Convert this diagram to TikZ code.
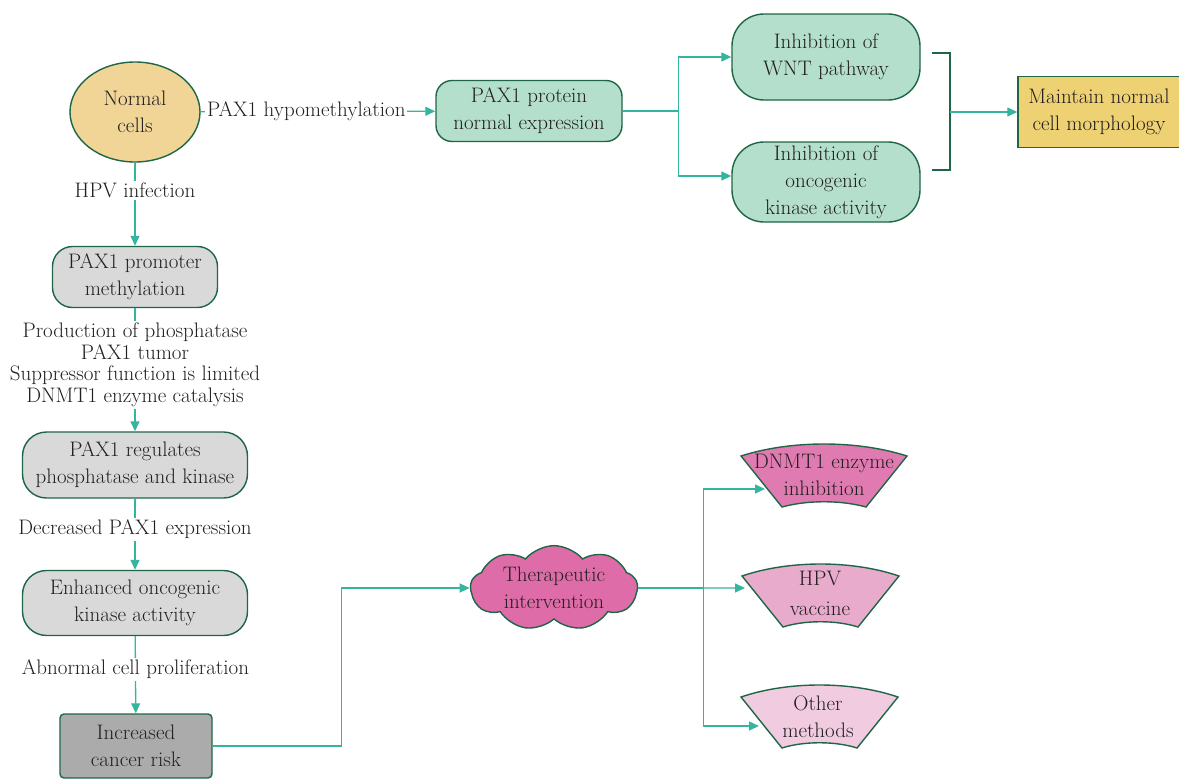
\documentclass[tikz,border=0pt]{standalone}
\usetikzlibrary{shapes.geometric,shapes.symbols,arrows.meta}
\definecolor{edge}{HTML}{1F6646}
\definecolor{link}{HTML}{35B49E}
\definecolor{txt}{HTML}{231F20}
\definecolor{tan}{HTML}{F0D597}
\definecolor{mint}{HTML}{B3DFCC}
\definecolor{lgray}{HTML}{D9D9D9}
\definecolor{dgray}{HTML}{ABABAB}
\definecolor{gold}{HTML}{EED173}
\definecolor{rose}{HTML}{DE6CA8}
\definecolor{roseA}{HTML}{E07BB1}
\definecolor{roseB}{HTML}{E8ABCC}
\definecolor{roseC}{HTML}{F1CBE0}
% curved fan shape: top-left corner, width, fill
\newcommand{\fanshape}[3]{%
  \draw[fan,fill=#3,shift={(#1)}] (0,0) .. controls ({0.3*#2},-16) and ({0.7*#2},-16) .. (#2,0)
    -- ({#2-41},51) .. controls ({0.6*#2},44) and ({0.4*#2},44) .. (41,51) -- cycle;}

\begin{document}
\begin{tikzpicture}[x=1pt,y=-1pt,font=\fontsize{21}{27}\selectfont,
    every node/.append style={text=txt,align=center},
    box/.style={draw=edge,line width=1.4pt,rounded corners=#1,inner sep=0pt},
    box/.default=20pt,
    fan/.style={draw=edge,line width=1.4pt},
    arr/.style={draw=link,line width=1.3pt,-{Triangle[length=10pt,width=9pt]}},
    wire/.style={draw=link,line width=1.3pt},
    lab/.style={fill=white,inner sep=2pt}]
  \useasboundingbox (0,0) rectangle (1179,779);

  % left column
  \node (nc) at (135,112) [ellipse,draw=edge,line width=1.4pt,fill=tan,minimum width=130pt,minimum height=100pt,inner sep=0pt] {Normal\\cells};
  \node (pm) at (135,277) [box,fill=lgray,minimum width=165pt,minimum height=61pt] {PAX1 promoter\\methylation};
  \node (pr) at (135,465) [box=24pt,fill=lgray,minimum width=225pt,minimum height=66pt] {PAX1 regulates\\phosphatase and kinase};
  \node (eo) at (135,603) [box=24pt,fill=lgray,minimum width=225pt,minimum height=65pt] {Enhanced oncogenic\\kinase activity};
  \node (ic) at (136,746) [box=4pt,fill=dgray,minimum width=152pt,minimum height=64pt] {Increased\\cancer risk};

  \draw[arr] (nc) -- node[lab,pos=0.33] {HPV infection} (pm);
  \draw[arr] (pm) -- node[lab,pos=0.46,font=\fontsize{21}{21.5}\selectfont] {Production of phosphatase\\PAX1 tumor\\Suppressor function is limited\\DNMT1 enzyme catalysis} (pr);
  \draw[arr] (pr) -- node[lab,pos=0.43] {Decreased PAX1 expression} (eo);
  \draw[arr] (eo) -- node[lab,pos=0.43] {Abnormal cell proliferation} (ic);

  % top branch
  \node (pp) at (529,111) [box=16pt,fill=mint,minimum width=186pt,minimum height=61pt] {PAX1 protein\\normal expression};
  \node (wnt) at (826,57) [box=32pt,fill=mint,minimum width=188pt,minimum height=86pt] {Inhibition of\\WNT pathway};
  \node (kin) at (826,182) [box=32pt,fill=mint,minimum width=188pt,minimum height=80pt] {Inhibition of\\oncogenic\\kinase activity};
  \node (mn) at (1099,112) [draw=edge,line width=1.4pt,fill=gold,minimum width=162pt,minimum height=71pt,inner sep=0pt] {Maintain normal\\cell morphology};

  \draw[arr] (nc) -- node[lab,pos=0.45] {PAX1 hypomethylation} (pp);
  \draw[arr] (pp.east) -- ++(56,0) |- (wnt.west);
  \draw[arr] (pp.east) -- ++(56,0) |- ([yshift=6pt]kin.west);
  \draw[draw=edge,line width=1.4pt] (932,53) -| (950,170) -- (932,170);
  \coordinate (br) at (950,112);
  \draw[arr] (br) -- (mn);

  % therapy branch
  \node (th) at (554,588) [cloud,cloud puffs=9,cloud puff arc=100,aspect=2.2,draw=edge,line width=1.4pt,fill=rose,minimum width=167pt,minimum height=79pt,inner sep=0pt] {Therapeutic\\intervention};
  \draw[arr] (ic.east) -- ++(129,0) |- (th.west);

  \fanshape{741,456}{166}{roseA}
  \fanshape{742,576}{157}{roseB}
  \fanshape{741,697}{157}{roseC}
  \node (dn) at (824,475) {DNMT1 enzyme\\inhibition};
  \node (hv) at (820,593) [font=\fontsize{21}{30}\selectfont] {HPV\\vaccine};
  \node (ot) at (818,717) {Other\\methods};
  \coordinate (dn-in) at (765,489);
  \coordinate (hv-in) at (745,588);
  \coordinate (ot-in) at (759,726);

  \draw[wire] (th.east) -- ++(65,0) coordinate (sp);
  \draw[arr] (sp) |- (dn-in);
  \draw[arr] (sp) -- (hv-in);
  \draw[arr] (sp) |- (ot-in);
\end{tikzpicture}
\end{document}
